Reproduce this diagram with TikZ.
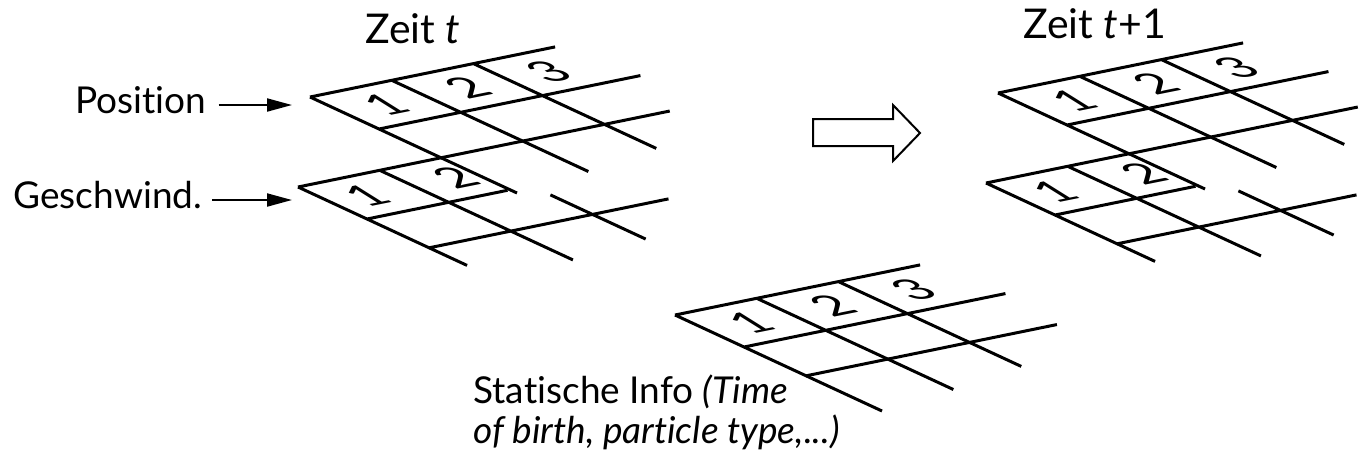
\documentclass[tikz,border=0pt]{standalone}
\usepackage{fontspec}
\setmainfont{Lato}[Ligatures=NoCommon]
\usetikzlibrary{arrows.meta,positioning}

\begin{document}
\begin{tikzpicture}[x=0.5pt,y=-0.5pt,
grid/.style={line width=1.5pt},
lbl/.style={inner sep=0pt,anchor=base west,font=\fontsize{18.5}{20}\selectfont},
title/.style={inner sep=0pt,anchor=base west,font=\fontsize{20.5}{22}\selectfont},
digit/.style={inner sep=0pt,font=\fontsize{25}{25}\selectfont,cm={1,0.2,-0.8,0.5,(0,0)}},
arr/.style={-{Triangle[length=12.5pt,width=6.5pt]},line width=1pt},
sheetaxes/.style={x={(40.85pt,8.35pt)},y={(34.5pt,-16pt)}},
possheet/.pic={\begin{scope}[sheetaxes]
 \draw[grid] (0,0)--(3,0) (0,1)--(3.2,1) (0,0)--(0,3) (1,0)--(1,2.85) (2,0)--(2,2.65);
 \foreach \d in {1,2,3}{\node[digit] (-d\d) at (\d-0.5,0.5) {\d};}
\end{scope}},
velsheet/.pic={\begin{scope}[sheetaxes]
 \draw[grid] (0,0)--(4.55,0) (0,1)--(1.72,1) (0,1.9)--(2.93,1.9)
   (0,0)--(0,2.45) (1,0)--(1,2.8) (2,1.29)--(2,2.67);
 \node[digit] (-d1) at (0.42,0.5) {1};
 \node[digit] (-d2) at (1.5,0.5) {2};
\end{scope}}]
\useasboundingbox (0,0) rectangle (1368,457);
% time t
\node[title] (tl) at (365,43) {Zeit \textit{t}};
\pic (pl) at (310,97) {possheet};
\pic (vl) at (298,187) {velsheet};
\node[lbl] (pos) at (75,113) {Position};
\node[lbl] (vel) at (13,208) {Geschwind.};
\coordinate (postip) at (292,105);
\coordinate (veltip) at (292,200);
\draw[arr] ([shift={(12,-8)}]pos.base east) -- (postip);
\draw[arr] ([shift={(10,-8)}]vel.base east) -- (veltip);
% step
\draw[line width=1pt] (813,119) -- (893,119) -- (893,105) -- (920,133) -- (893,161) -- (893,146) -- (813,146) -- cycle;
% time t+1
\node[title] (tr) at (1023,38) {Zeit \textit{t}+1};
\pic (pr) at (998,93) {possheet};
\pic (vr) at (986,183) {velsheet};
% static
\pic (st) at (675,315) {possheet};
\begin{scope}[shift={(675,315)},sheetaxes]
 \draw[grid] (0,1.9)--(3.07,1.9);
\end{scope}
\node[lbl] (stat) at (473,403) {Statische Info \textit{(Time}};
\node[lbl] (statb) at ([yshift=-20pt]stat.base west) {\textit{of birth, particle type,...)}};
\end{tikzpicture}
\end{document}
